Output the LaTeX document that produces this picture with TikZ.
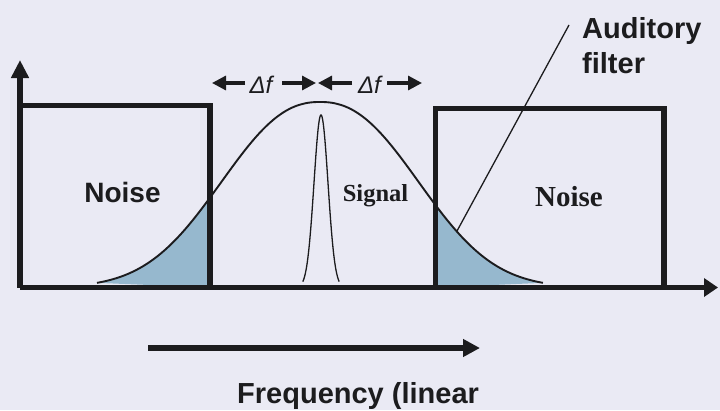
\documentclass[tikz,border=0pt]{standalone}
\usepackage{fontspec}
\setmainfont{Liberation Serif}
\newfontfamily\arial{Liberation Sans}
\usetikzlibrary{arrows.meta}
\definecolor{bgc}{RGB}{234,234,244}
\definecolor{ink}{RGB}{28,28,30}
\definecolor{shadec}{RGB}{150,184,206}
\begin{document}
\begin{tikzpicture}[x=1pt,y=-1pt,
  heavy/.style={draw=ink,line width=5.5pt,line join=miter},
  curveline/.style={draw=ink,line width=1.9pt},
  thinline/.style={draw=ink,line width=1.3pt},
  dfarrow/.style={draw=ink,line width=3.2pt,-{Triangle[length=14pt,width=14pt]}},
  sanslabel/.style={inner sep=0pt,text=ink,font=\arial\bfseries\fontsize{28}{34}\selectfont},
  seriflabel/.style={inner sep=0pt,text=ink,font=\bfseries\fontsize{29}{34}\selectfont}]
\fill[bgc] (0,0) rectangle (720,410);
\useasboundingbox (0,0) rectangle (720,410);
% shaded overlaps
\fill[shadec] plot[domain=-1.763:-0.8696,samples=60,smooth] ({320+126.5*\x},{287.5-185.5*exp(-(abs(\x))^2.3)}) -- (210,287.5) -- cycle;
\fill[shadec] plot[domain=0.913:1.763,samples=60,smooth] ({320+126.5*\x},{287.5-185.5*exp(-(abs(\x))^2.3)}) -- (435.5,287.5) -- cycle;
% auditory filter curve
\draw[curveline] plot[domain=-1.763:1.763,samples=140,smooth] ({320+126.5*\x},{287.5-185.5*exp(-(abs(\x)+0.00001)^2.3)});
% signal
\draw[thinline] plot[domain=-2.6:2.6,samples=80,smooth] ({321+7*\x},{287.5-172.5*exp(-(\x*\x)/2)});
% noise boxes
\draw[heavy] (20,105.5) -- (210,105.5) -- (210,287.5);
\draw[heavy] (435.5,287.5) -- (435.5,108.5) -- (664,108.5) -- (664,287.5);
% axes
\coordinate (origin) at (20,287.5);
\coordinate (ytip) at (20,60);
\coordinate (xtip) at (718,287.5);
\draw[heavy,-{Triangle[length=18pt,width=17pt]}] (origin) -- (ytip);
\draw[heavy,-{Triangle[length=14pt,width=18pt]}] (origin) -- (xtip);
% labels
\node[sanslabel,anchor=base] (noiseL) at (122.5,202) {Noise};
\node[seriflabel,anchor=base] (noiseR) at (569,206) {Noise};
\node[inner sep=0pt,text=ink,font=\bfseries\fontsize{24.5}{30}\selectfont,anchor=base] (signal) at (375.5,201) {Signal};
\node[sanslabel,font=\arial\bfseries\fontsize{29}{34}\selectfont,anchor=base west] (aud1) at (582,38) {Auditory};
\node[sanslabel,font=\arial\bfseries\fontsize{29}{34}\selectfont,anchor=base west] (aud2) at (582,73) {filter};
\coordinate (ptrstart) at (569,25);
\coordinate (ptrend) at (457,231);
\draw[thinline] (ptrstart) -- (ptrend);
% delta f
\node[inner sep=0pt,text=ink,font=\arial\itshape\fontsize{24}{28}\selectfont,anchor=base] (df1) at (261,93) {Δf};
\node[inner sep=0pt,text=ink,font=\arial\itshape\fontsize{24}{28}\selectfont,anchor=base] (df2) at (369.5,93) {Δf};
\coordinate (a1) at (212,83);
\coordinate (a2) at (316,83);
\coordinate (a3) at (318,83);
\coordinate (a4) at (422,83);
\coordinate (b1) at (245,83);
\coordinate (b2) at (282,83);
\coordinate (b3) at (352,83);
\coordinate (b4) at (387,83);
\draw[dfarrow] (b1) -- (a1);
\draw[dfarrow] (b2) -- (a2);
\draw[dfarrow] (b3) -- (a3);
\draw[dfarrow] (b4) -- (a4);
% frequency arrow
\coordinate (fstart) at (148,348);
\coordinate (fend) at (480,348);
\draw[draw=ink,line width=6pt,-{Triangle[length=17pt,width=17pt]}] (fstart) -- (fend);
\node[sanslabel,font=\arial\bfseries\fontsize{29}{34}\selectfont,anchor=base west] (freq) at (237,403) {Frequency (linear};
\end{tikzpicture}
\end{document}
